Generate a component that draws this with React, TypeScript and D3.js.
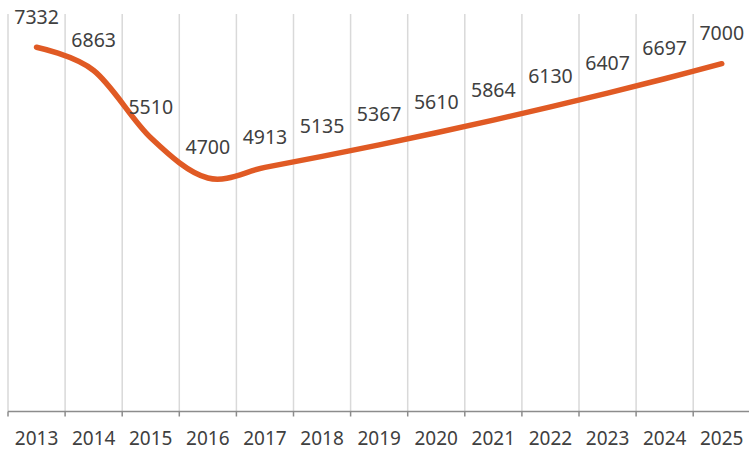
import React from "react";
import * as d3 from "d3";

const years = ["2013","2014","2015","2016","2017","2018","2019","2020","2021","2022","2023","2024","2025"];
const values = [7332, 6863, 5510, 4700, 4913, 5135, 5367, 5610, 5864, 6130, 6407, 6697, 7000];

const W = 749;
const H = 450;

export default function App() {
  const x = d3.scaleBand<string>().domain(years).range([8, 750.3]).paddingInner(0).paddingOuter(0);
  const y = d3.scaleLinear().domain([0, 8000]).range([411.5, 14]);
  const cx = (d: string) => (x(d) as number) + x.bandwidth() / 2;
  const pts: [number, number][] = years.map((yr, i) => [cx(yr), y(values[i])]);
  const line = d3.line().curve(d3.curveCardinal.tension(0))(pts) as string;
  const bounds = years.map((yr) => x(yr) as number).concat([(x(years[years.length - 1]) as number) + x.bandwidth()]);
  const font = "'Noto Sans', sans-serif";
  return (
    <svg width={W} height={H} style={{ position: "absolute", left: 0, top: 0 }}>
      <rect width={W} height={H} fill="#fff" />
      {bounds.map((b, i) => (
        <line key={"g" + i} x1={b} x2={b} y1={y(8000)} y2={y(0)} stroke="#d9d9d9" strokeWidth={1.5} />
      ))}
      <line x1={8} x2={750} y1={y(0)} y2={y(0)} stroke="#8c8c8c" strokeWidth={1.5} />
      {bounds.map((b, i) => (
        <line key={"t" + i} x1={b} x2={b} y1={y(0)} y2={y(0) + 5} stroke="#8c8c8c" strokeWidth={1.5} />
      ))}
      <path d={line} fill="none" stroke="#e05a24" strokeWidth={5.5} strokeLinecap="round" />
      {years.map((yr, i) => (
        <text key={"l" + i} x={cx(yr)} y={y(values[i]) - 23.5} textAnchor="middle" fontFamily={font} fontSize={19.5} fill="#404040">
          {values[i]}
        </text>
      ))}
      {years.map((yr) => (
        <text key={"x" + yr} x={cx(yr)} y={444.5} textAnchor="middle" fontFamily={font} fontSize={19} fill="#404040">
          {yr}
        </text>
      ))}
    </svg>
  );
}
